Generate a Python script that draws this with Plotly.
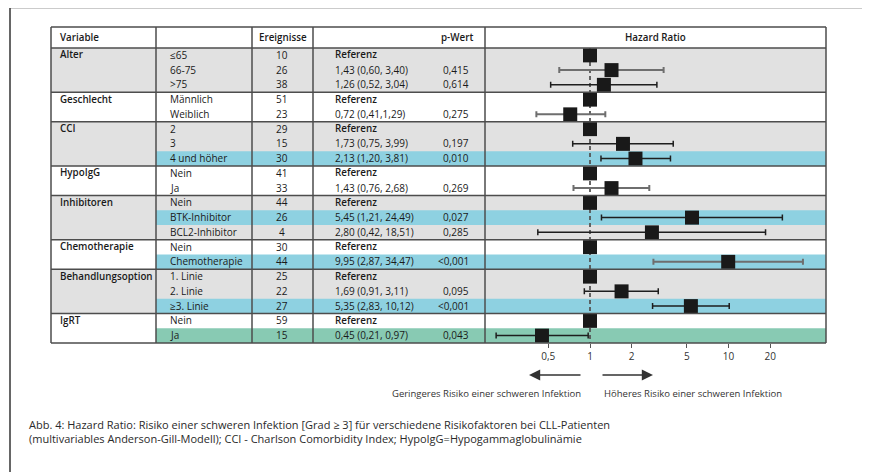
import plotly.graph_objects as go

# Page body has an 8px default margin; compensate so figure pixels match screen pixels.
OFF = 8
W, H = 870 - OFF, 472 - OFF

# ---------------- data ----------------
groups = ["Alter", "Geschlecht", "CCI", "HypoIgG", "Inhibitoren", "Chemotherapie", "Behandlungsoption", "IgRT"]
group_sizes = [3, 2, 3, 2, 3, 2, 3, 2]
subgroups = ["≤65", "66-75", ">75", "Männlich", "Weiblich", "2", "3", "4 und höher", "Nein", "Ja",
             "Nein", "BTK-Inhibitor", "BCL2-Inhibitor", "Nein", "Chemotherapie",
             "1. Linie", "2. Linie", "≥3. Linie", "Nein", "Ja"]
events = [10, 26, 38, 51, 23, 29, 15, 30, 41, 33, 44, 26, 4, 30, 44, 25, 22, 27, 59, 15]
hr = [1, 1.43, 1.26, 1, 0.72, 1, 1.73, 2.13, 1, 1.43, 1, 5.45, 2.80, 1, 9.95, 1, 1.69, 5.35, 1, 0.45]
ci_low = [None, 0.60, 0.52, None, 0.41, None, 0.75, 1.20, None, 0.76, None, 1.21, 0.42, None, 2.87, None, 0.91, 2.83, None, 0.21]
ci_high = [None, 3.40, 3.04, None, 1.29, None, 3.99, 3.81, None, 2.68, None, 24.49, 18.51, None, 34.47, None, 3.11, 10.12, None, 0.97]
hr_text = ["Referenz", "1,43 (0,60, 3,40)", "1,26 (0,52, 3,04)", "Referenz", "0,72 (0,41,1,29)",
           "Referenz", "1,73 (0,75, 3,99)", "2,13 (1,20, 3,81)", "Referenz", "1,43 (0,76, 2,68)",
           "Referenz", "5,45 (1,21, 24,49)", "2,80 (0,42, 18,51)", "Referenz", "9,95 (2,87, 34,47)",
           "Referenz", "1,69 (0,91, 3,11)", "5,35 (2,83, 10,12)", "Referenz", "0,45 (0,21, 0,97)"]
p_values = ["", "0,415", "0,614", "", "0,275", "", "0,197", "0,010", "", "0,269",
            "", "0,027", "0,285", "", "<0,001", "", "0,095", "<0,001", "", "0,043"]
# highlight: "" none, "b" blue, "g" green
highlight = ["", "", "", "", "", "", "", "b", "", "", "", "b", "", "", "b", "", "", "b", "", "g"]
ci_grey = [False, True, False, False, True, False, False, False, False, True,
           False, False, False, False, True, False, False, False, False, False]
tick_vals = [0.5, 1, 2, 5, 10, 20]
tick_text = ["0,5", "1", "2", "5", "10", "20"]

caption = ("Abb. 4: Hazard Ratio: Risiko einer schweren Infektion [Grad ≥ 3] für verschiedene Risikofaktoren bei CLL-Patienten<br>"
           "(multivariables Anderson-Gill-Modell); CCI - Charlson Comorbidity Index; HypoIgG=Hypogammaglobulinämie")

# ---------------- layout geometry (screen pixels) ----------------
X_T0, X_C1, X_C2, X_C3, X_C4, X_T1 = 51, 156, 252, 313, 485, 826
Y_HEAD, Y_ROW0 = 27, 48
ROW_H = 14.75
N = len(subgroups)
Y_END = Y_ROW0 + N * ROW_H

def px(x):
    return (x - OFF) / W

def py(y):
    return 1 - (y - OFF) / H

def row_top(i):
    return Y_ROW0 + i * ROW_H

GREY = "#e1e1e1"
BLUE = "#8ed1e1"
GREEN = "#88cab3"
LINE = "#4d4d4d"
TXT = "#1a1a1a"
FONT = "Open Sans"
BOLD = 9.8

shapes = []
annotations = []

def rect(x0, y0, x1, y1, color):
    shapes.append(dict(type="rect", xref="paper", yref="paper", x0=px(x0), x1=px(x1),
                       y0=py(y1), y1=py(y0), fillcolor=color, line=dict(width=0), layer="below"))

def line(x0, y0, x1, y1, color=LINE, width=1.5):
    shapes.append(dict(type="line", xref="paper", yref="paper", x0=px(x0), x1=px(x1),
                       y0=py(y0), y1=py(y1), line=dict(color=color, width=width), layer="above"))

def text(x, y, s, anchor="left", bold=False, size=10, color=TXT):
    annotations.append(dict(xref="paper", yref="paper", x=px(x), y=py(y), text=s,
                            showarrow=False, xanchor=anchor, yanchor="middle",
                            font=dict(family=FONT, size=size, color=color,
                                      weight=(600 if bold else 400))))

# group backgrounds
start = 0
group_start = []
for gi, gs in enumerate(group_sizes):
    group_start.append(start)
    if gi % 2 == 0:
        rect(X_T0, row_top(start), X_T1, row_top(start + gs), GREY)
    start += gs

# highlighted rows
for i, h in enumerate(highlight):
    if h:
        rect(X_C1, row_top(i), X_T1, row_top(i + 1), BLUE if h == "b" else GREEN)

# table lines
line(X_T0, Y_HEAD, X_T1, Y_HEAD)
line(X_T0, Y_ROW0, X_T1, Y_ROW0)
line(X_T0, Y_END, X_T1, Y_END)
for gs in group_start[1:]:
    line(X_T0, row_top(gs), X_T1, row_top(gs))
for xc in [X_T0, X_C1, X_C2, X_C3, X_C4, X_T1]:
    line(xc, Y_HEAD, xc, Y_END)

# outer frame
line(10, 7.5, 867, 7.5, "#333333", 1.5)
line(10, 7.5, 10, 480, "#333333", 1.5)
line(867, 7.5, 867, 480, "#333333", 1.5)

# header
yh = (Y_HEAD + Y_ROW0) / 2
text(58, yh, "Variable", bold=True, size=BOLD)
text((X_C2 + X_C3) / 2, yh, "Ereignisse", anchor="center", bold=True, size=BOLD)
text(475, yh, "p-Wert", anchor="right", bold=True, size=BOLD)
text((X_C4 + X_T1) / 2, yh, "Hazard Ratio", anchor="center", bold=True, size=BOLD)

# body text
for gi, g in enumerate(groups):
    i = group_start[gi]
    text(58, row_top(i) + ROW_H / 2 - 0.5, g, bold=True, size=BOLD)
for i in range(N):
    yc = row_top(i) + ROW_H / 2 - 0.5
    text(168, yc, subgroups[i])
    text((X_C2 + X_C3) / 2 - 1, yc, str(events[i]), anchor="center")
    if hr_text[i] == "Referenz":
        text(333, yc, "Referenz", bold=True, size=BOLD)
    else:
        text(333, yc, hr_text[i])
    if p_values[i]:
        text(471, yc, p_values[i].replace("<", "&lt;"), anchor="right")

# arrows and their labels
Y_ARR = 375
annotations.append(dict(xref="paper", yref="paper", x=px(529), y=py(Y_ARR), ax=53, ay=0, text="",
                        showarrow=True, arrowhead=2, arrowsize=1.4, arrowwidth=1.6, arrowcolor="#333333"))
annotations.append(dict(xref="paper", yref="paper", x=px(653), y=py(Y_ARR), ax=-52, ay=0, text="",
                        showarrow=True, arrowhead=2, arrowsize=1.4, arrowwidth=1.6, arrowcolor="#333333"))
text(583, 393, "Geringeres Risiko einer schweren Infektion", anchor="right", size=9.5, color="#333333")
text(602, 393, "Höheres Risiko einer schweren Infektion", anchor="left", size=9.5, color="#333333")

# caption
annotations.append(dict(xref="paper", yref="paper", x=px(27), y=py(431), text=caption, showarrow=False,
                        xanchor="left", yanchor="middle", align="left",
                        font=dict(family=FONT, size=11, color="#2a2a2a")))

# ---------------- forest traces ----------------
rows = list(range(N))
fig = go.Figure()

# reference line at HR = 1
fig.add_trace(go.Scatter(x=[1, 1], y=[-0.5, N - 0.35], mode="lines",
                         line=dict(color="#555555", width=1.8, dash="4px,3px"),
                         hoverinfo="skip", showlegend=False, cliponaxis=False))

for grey_flag, col, wid in [(True, "#6e6e6e", 2.0), (False, "#1e1e1e", 1.5)]:
    idx = [i for i in rows if ci_low[i] is not None and ci_grey[i] == grey_flag]
    fig.add_trace(go.Scatter(
        x=[hr[i] for i in idx], y=idx, mode="markers",
        marker=dict(size=1, color="rgba(0,0,0,0)"),
        error_x=dict(type="data", symmetric=False,
                     array=[ci_high[i] - hr[i] for i in idx],
                     arrayminus=[hr[i] - ci_low[i] for i in idx],
                     color=col, thickness=wid, width=3),
        hoverinfo="skip", showlegend=False))

fig.add_trace(go.Scatter(x=hr, y=rows, mode="markers",
                         marker=dict(symbol="square", size=14, color="#191919", line=dict(width=0)),
                         showlegend=False, cliponaxis=False))

lg_min = -(590 - X_C4) / 138.5
lg_max = lg_min + (X_T1 - X_C4) / 138.5

fig.update_layout(
    width=W, height=H,
    margin=dict(l=0, r=0, t=0, b=0),
    paper_bgcolor="white", plot_bgcolor="rgba(0,0,0,0)",
    shapes=shapes, annotations=annotations,
    xaxis=dict(type="log", domain=[px(X_C4), px(X_T1)], range=[lg_min, lg_max],
               tickvals=tick_vals, ticktext=tick_text, ticks="outside", ticklen=4,
               tickcolor="#555555", tickwidth=1, showgrid=False, zeroline=False, showline=False,
               tickfont=dict(family=FONT, size=10, color="#333333")),
    yaxis=dict(domain=[py(Y_END), py(Y_ROW0)], range=[N - 0.5, -0.5], visible=False,
               showgrid=False, zeroline=False),
    font=dict(family=FONT),
)

fig.write_html("out.html")
